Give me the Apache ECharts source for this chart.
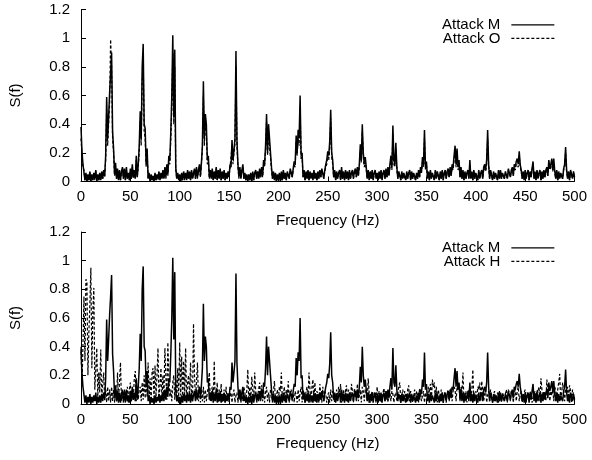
<!DOCTYPE html>
<html>
<head>
<meta charset="utf-8">
<script src="https://cdn.jsdelivr.net/npm/echarts@6/dist/echarts.min.js"></script>
<style>
html,body{margin:0;padding:0;background:#fff;}
#chart{width:592px;height:460px;}
</style>
</head>
<body>
<div id="chart"></div>
<script>
// Frequency resolution of the spectra (Hz per sample), samples start at 0 Hz
const FREQ_STEP_HZ = 1;
const X_TICKS = [0, 50, 100, 150, 200, 250, 300, 350, 400, 450, 500];
const Y_TICKS = [0, 0.2, 0.4, 0.6, 0.8, 1, 1.2];
const SERIES_NAMES = ['Attack M', 'Attack O', 'Attack H'];
const X_TITLE = 'Frequency (Hz)';
const Y_TITLE = 'S(f)';

// Attack M spectrum (both panels), 0..500 Hz
const attackM = [
0.38,0.21,0.12,0.12,0.01,0.06,0.00,0.05,0.01,0.07,
0.00,0.05,0.01,0.06,0.02,0.08,0.00,0.05,0.01,0.06,
0.01,0.07,0.02,0.08,0.04,0.18,0.59,0.30,0.45,0.62,
0.75,0.90,0.35,0.23,0.05,0.13,0.02,0.09,0.01,0.08,
0.01,0.07,0.10,0.02,0.09,0.01,0.10,0.02,0.06,0.01,
0.09,0.02,0.12,0.03,0.08,0.02,0.18,0.03,0.12,0.25,
0.49,0.30,0.80,0.96,0.40,0.37,0.12,0.23,0.02,0.06,
0.00,0.05,0.01,0.04,0.00,0.06,0.01,0.05,0.02,0.07,
0.01,0.06,0.02,0.08,0.02,0.10,0.03,0.12,0.05,0.18,
0.15,0.35,0.60,1.02,0.45,0.92,0.10,0.02,0.06,0.01,
0.05,0.00,0.06,0.01,0.07,0.02,0.06,0.01,0.08,0.02,
0.07,0.01,0.08,0.02,0.06,0.09,0.02,0.10,0.03,0.08,
0.12,0.04,0.13,0.25,0.70,0.30,0.47,0.40,0.15,0.18,
0.03,0.08,0.02,0.09,0.01,0.07,0.02,0.10,0.01,0.08,
0.02,0.09,0.01,0.07,0.02,0.08,0.01,0.06,0.02,0.07,
0.03,0.12,0.10,0.29,0.15,0.22,0.30,0.91,0.29,0.12,
0.03,0.10,0.02,0.08,0.12,0.02,0.06,0.01,0.05,0.00,
0.05,0.01,0.06,0.00,0.07,0.01,0.06,0.08,0.02,0.07,
0.02,0.09,0.03,0.10,0.04,0.15,0.12,0.25,0.47,0.20,
0.40,0.30,0.30,0.10,0.02,0.07,0.01,0.06,0.00,0.05,
0.01,0.06,0.00,0.07,0.01,0.08,0.02,0.06,0.01,0.07,
0.08,0.02,0.09,0.10,0.03,0.09,0.14,0.12,0.32,0.20,
0.36,0.30,0.60,0.18,0.20,0.03,0.08,0.01,0.07,0.02,
0.08,0.01,0.07,0.02,0.06,0.01,0.08,0.02,0.06,0.01,
0.07,0.02,0.08,0.03,0.09,0.10,0.02,0.08,0.12,0.15,
0.21,0.18,0.28,0.50,0.20,0.15,0.03,0.08,0.01,0.07,
0.02,0.06,0.08,0.01,0.10,0.02,0.07,0.01,0.08,0.02,
0.07,0.01,0.08,0.02,0.06,0.08,0.02,0.07,0.09,0.03,
0.10,0.04,0.12,0.26,0.15,0.40,0.20,0.12,0.17,0.10,
0.02,0.08,0.01,0.07,0.02,0.08,0.01,0.06,0.08,0.02,
0.06,0.01,0.07,0.02,0.08,0.01,0.06,0.08,0.02,0.09,
0.03,0.10,0.04,0.12,0.18,0.10,0.39,0.15,0.12,0.27,
0.10,0.02,0.07,0.08,0.01,0.07,0.02,0.06,0.07,0.01,
0.07,0.02,0.06,0.08,0.01,0.07,0.02,0.06,0.07,0.01,
0.06,0.02,0.08,0.03,0.10,0.07,0.17,0.12,0.36,0.10,
0.14,0.02,0.07,0.01,0.08,0.02,0.06,0.07,0.01,0.08,
0.02,0.07,0.08,0.01,0.07,0.02,0.08,0.01,0.06,0.08,
0.02,0.07,0.09,0.03,0.10,0.04,0.12,0.10,0.18,0.25,
0.12,0.23,0.10,0.15,0.03,0.10,0.02,0.08,0.01,0.07,
0.02,0.06,0.08,0.02,0.15,0.02,0.07,0.01,0.08,0.02,
0.06,0.07,0.01,0.08,0.02,0.06,0.08,0.02,0.10,0.12,
0.08,0.15,0.36,0.12,0.02,0.08,0.08,0.01,0.07,0.02,
0.06,0.07,0.01,0.08,0.02,0.08,0.02,0.06,0.07,0.02,
0.07,0.08,0.02,0.09,0.09,0.03,0.08,0.10,0.04,0.12,
0.10,0.14,0.16,0.12,0.21,0.12,0.08,0.02,0.07,0.01,
0.08,0.02,0.06,0.08,0.01,0.07,0.03,0.09,0.14,0.02,
0.07,0.01,0.08,0.02,0.06,0.08,0.01,0.07,0.02,0.08,
0.03,0.08,0.10,0.04,0.15,0.09,0.12,0.16,0.08,0.16,
0.07,0.02,0.08,0.01,0.07,0.02,0.06,0.07,0.02,0.09,
0.12,0.24,0.08,0.02,0.07,0.01,0.08,0.08,0.02,0.07,
0.03
];

// Attack O spectrum (top panel), 0..500 Hz
const attackO = [
0.30,0.18,0.10,0.08,0.01,0.05,0.00,0.04,0.01,0.06,
0.00,0.04,0.01,0.05,0.01,0.07,0.00,0.04,0.01,0.05,
0.01,0.06,0.02,0.07,0.03,0.15,0.50,0.25,0.40,0.55,
0.99,0.80,0.30,0.20,0.04,0.10,0.02,0.08,0.01,0.07,
0.01,0.06,0.08,0.02,0.07,0.01,0.08,0.02,0.05,0.01,
0.07,0.02,0.10,0.02,0.07,0.02,0.15,0.03,0.10,0.20,
0.42,0.25,0.70,0.85,0.35,0.30,0.10,0.20,0.02,0.05,
0.00,0.04,0.01,0.03,0.00,0.05,0.01,0.04,0.01,0.06,
0.01,0.05,0.02,0.07,0.02,0.08,0.02,0.10,0.04,0.15,
0.12,0.30,0.50,0.90,0.40,0.80,0.08,0.02,0.05,0.01,
0.04,0.00,0.05,0.01,0.06,0.01,0.05,0.01,0.07,0.02,
0.06,0.01,0.07,0.02,0.05,0.08,0.02,0.09,0.02,0.07,
0.10,0.03,0.12,0.22,0.60,0.25,0.40,0.35,0.12,0.15,
0.02,0.07,0.02,0.08,0.01,0.06,0.02,0.09,0.01,0.07,
0.02,0.08,0.01,0.06,0.02,0.07,0.01,0.05,0.02,0.06,
0.03,0.10,0.09,0.25,0.12,0.20,0.26,0.80,0.25,0.10,
0.02,0.08,0.02,0.07,0.10,0.02,0.05,0.01,0.04,0.00,
0.04,0.01,0.05,0.00,0.06,0.01,0.05,0.07,0.02,0.06,
0.02,0.08,0.03,0.09,0.03,0.12,0.10,0.22,0.42,0.18,
0.35,0.25,0.26,0.08,0.02,0.06,0.01,0.05,0.00,0.04,
0.01,0.05,0.00,0.06,0.01,0.07,0.02,0.05,0.01,0.06,
0.07,0.02,0.08,0.08,0.03,0.08,0.12,0.10,0.28,0.18,
0.30,0.25,0.52,0.15,0.17,0.03,0.07,0.01,0.06,0.02,
0.07,0.01,0.06,0.02,0.05,0.01,0.07,0.02,0.05,0.01,
0.06,0.02,0.07,0.03,0.08,0.09,0.02,0.07,0.10,0.12,
0.18,0.15,0.24,0.44,0.17,0.12,0.03,0.07,0.01,0.06,
0.02,0.05,0.07,0.01,0.08,0.02,0.06,0.01,0.07,0.02,
0.06,0.01,0.07,0.02,0.05,0.07,0.02,0.06,0.08,0.03,
0.08,0.04,0.10,0.22,0.13,0.35,0.17,0.10,0.14,0.08,
0.02,0.07,0.01,0.06,0.02,0.07,0.01,0.05,0.07,0.02,
0.05,0.01,0.06,0.02,0.07,0.01,0.05,0.07,0.02,0.08,
0.03,0.08,0.04,0.10,0.15,0.08,0.33,0.12,0.10,0.23,
0.08,0.02,0.06,0.07,0.01,0.06,0.02,0.05,0.06,0.01,
0.06,0.02,0.05,0.07,0.01,0.06,0.02,0.05,0.06,0.01,
0.05,0.02,0.07,0.03,0.08,0.06,0.14,0.10,0.30,0.08,
0.12,0.02,0.06,0.01,0.07,0.02,0.05,0.06,0.01,0.07,
0.02,0.06,0.07,0.01,0.06,0.02,0.07,0.01,0.05,0.07,
0.02,0.06,0.08,0.03,0.08,0.04,0.10,0.08,0.15,0.21,
0.10,0.19,0.08,0.12,0.03,0.08,0.02,0.07,0.01,0.06,
0.02,0.05,0.07,0.02,0.12,0.02,0.06,0.01,0.07,0.02,
0.05,0.06,0.01,0.07,0.02,0.05,0.07,0.02,0.08,0.10,
0.07,0.12,0.30,0.10,0.02,0.07,0.07,0.01,0.06,0.02,
0.05,0.06,0.01,0.07,0.02,0.07,0.02,0.05,0.06,0.02,
0.06,0.07,0.02,0.08,0.08,0.03,0.07,0.08,0.04,0.10,
0.08,0.12,0.13,0.10,0.18,0.10,0.07,0.02,0.06,0.01,
0.07,0.02,0.05,0.07,0.01,0.06,0.03,0.08,0.12,0.02,
0.06,0.01,0.07,0.02,0.05,0.07,0.01,0.06,0.02,0.07,
0.03,0.07,0.08,0.04,0.12,0.08,0.10,0.13,0.07,0.13,
0.06,0.02,0.07,0.01,0.06,0.02,0.05,0.06,0.02,0.08,
0.10,0.20,0.07,0.02,0.06,0.01,0.07,0.07,0.02,0.06,
0.02
];

// Attack H spectrum (bottom panel), 0..500 Hz
const attackH = [
0.40,0.12,0.42,0.75,0.30,0.87,0.85,0.20,0.50,0.70,
0.95,0.25,0.65,0.81,0.10,0.25,0.39,0.05,0.22,0.08,
0.38,0.04,0.15,0.22,0.02,0.10,0.01,0.12,0.02,0.10,
0.01,0.12,0.02,0.10,0.01,0.08,0.02,0.22,0.03,0.15,
0.29,0.02,0.08,0.01,0.10,0.02,0.08,0.12,0.01,0.10,
0.15,0.02,0.10,0.03,0.18,0.23,0.02,0.12,0.03,0.10,
0.12,0.02,0.15,0.03,0.20,0.04,0.18,0.05,0.29,0.03,
0.18,0.02,0.22,0.25,0.03,0.27,0.05,0.20,0.39,0.04,
0.12,0.25,0.03,0.20,0.05,0.39,0.18,0.03,0.43,0.20,
0.05,0.10,0.02,0.15,0.20,0.03,0.18,0.02,0.25,0.05,
0.43,0.06,0.33,0.04,0.30,0.05,0.39,0.03,0.15,0.20,
0.04,0.29,0.05,0.02,0.56,0.20,0.03,0.15,0.29,0.02,
0.12,0.01,0.10,0.02,0.12,0.01,0.10,0.02,0.08,0.12,
0.22,0.02,0.08,0.12,0.03,0.30,0.02,0.06,0.15,0.01,
0.10,0.02,0.14,0.01,0.05,0.10,0.01,0.12,0.02,0.08,
0.01,0.06,0.08,0.01,0.07,0.10,0.01,0.06,0.08,0.01,
0.07,0.10,0.01,0.08,0.02,0.12,0.08,0.01,0.10,0.24,
0.02,0.12,0.02,0.19,0.10,0.02,0.22,0.09,0.01,0.06,
0.10,0.15,0.02,0.13,0.02,0.10,0.01,0.08,0.12,0.02,
0.08,0.01,0.10,0.07,0.01,0.09,0.16,0.02,0.05,0.10,
0.01,0.12,0.09,0.22,0.02,0.06,0.12,0.01,0.10,0.05,
0.16,0.01,0.06,0.10,0.02,0.07,0.01,0.09,0.06,0.01,
0.10,0.02,0.08,0.12,0.01,0.10,0.07,0.01,0.09,0.12,
0.02,0.22,0.10,0.01,0.12,0.17,0.02,0.15,0.01,0.09,
0.07,0.01,0.14,0.06,0.01,0.12,0.02,0.09,0.07,0.01,
0.06,0.08,0.01,0.10,0.02,0.09,0.06,0.01,0.05,0.10,
0.02,0.12,0.06,0.14,0.01,0.05,0.10,0.02,0.09,0.13,
0.01,0.10,0.08,0.02,0.14,0.09,0.01,0.11,0.07,0.02,
0.14,0.02,0.06,0.10,0.01,0.12,0.09,0.02,0.10,0.08,
0.02,0.18,0.07,0.01,0.06,0.09,0.02,0.08,0.07,0.01,
0.12,0.02,0.09,0.07,0.01,0.05,0.08,0.11,0.02,0.09,
0.07,0.01,0.06,0.08,0.02,0.09,0.07,0.01,0.06,0.08,
0.02,0.07,0.12,0.15,0.01,0.06,0.10,0.02,0.09,0.05,
0.01,0.10,0.13,0.02,0.09,0.06,0.01,0.05,0.10,0.02,
0.09,0.06,0.01,0.11,0.07,0.02,0.06,0.09,0.01,0.08,
0.07,0.02,0.12,0.08,0.14,0.02,0.17,0.12,0.15,0.02,
0.12,0.01,0.10,0.06,0.02,0.10,0.07,0.01,0.08,0.06,
0.01,0.07,0.10,0.02,0.08,0.11,0.02,0.09,0.12,0.10,
0.02,0.12,0.10,0.14,0.02,0.12,0.08,0.22,0.02,0.07,
0.09,0.01,0.10,0.08,0.12,0.02,0.10,0.24,0.02,0.06,
0.09,0.02,0.12,0.10,0.15,0.02,0.16,0.17,0.02,0.07,
0.10,0.01,0.06,0.09,0.02,0.10,0.05,0.01,0.06,0.09,
0.02,0.05,0.08,0.01,0.09,0.07,0.01,0.08,0.06,0.02,
0.07,0.10,0.01,0.10,0.08,0.02,0.09,0.07,0.01,0.08,
0.10,0.02,0.09,0.12,0.02,0.06,0.09,0.01,0.05,0.08,
0.10,0.01,0.08,0.05,0.02,0.09,0.06,0.01,0.05,0.07,
0.09,0.02,0.10,0.08,0.12,0.02,0.18,0.10,0.02,0.09,
0.06,0.02,0.17,0.08,0.12,0.02,0.09,0.06,0.10,0.02,
0.12,0.09,0.02,0.10,0.15,0.21,0.02,0.08,0.15,0.09,
0.02,0.10,0.08,0.12,0.02,0.13,0.09,0.01,0.10,0.06,
0.02
];

function toPairs(arr) {
  return arr.map(function (v, i) { return [i * FREQ_STEP_HZ, v]; });
}

const FONT = '"Liberation Sans", Arial, Helvetica, sans-serif';
const textStyle = { fontFamily: FONT, fontSize: 15, color: '#000' };

function xAxis(gridIndex) {
  return {
    type: 'value', gridIndex: gridIndex,
    min: X_TICKS[0], max: X_TICKS[X_TICKS.length - 1], interval: X_TICKS[1] - X_TICKS[0],
    name: X_TITLE, nameLocation: 'middle', nameGap: 32,
    nameTextStyle: textStyle,
    axisLine: { show: true, lineStyle: { color: '#000', width: 1 } },
    axisTick: { show: true, inside: true, length: 5, lineStyle: { color: '#000' } },
    axisLabel: Object.assign({ margin: 8 }, textStyle),
    splitLine: { show: false }
  };
}
function yAxis(gridIndex) {
  return {
    type: 'value', gridIndex: gridIndex,
    min: Y_TICKS[0], max: Y_TICKS[Y_TICKS.length - 1], interval: Y_TICKS[1] - Y_TICKS[0],
    name: Y_TITLE, nameLocation: 'middle', nameGap: 58, nameRotate: 90,
    nameTextStyle: textStyle,
    axisLine: { show: true, lineStyle: { color: '#000', width: 1 } },
    axisTick: { show: true, inside: true, length: 5, lineStyle: { color: '#000' } },
    axisLabel: Object.assign({ margin: 11, formatter: function (v) { return String(+v.toFixed(2)); } }, textStyle),
    splitLine: { show: false }
  };
}
function lineSeries(name, data, xi, dashed) {
  return {
    type: 'line', name: name, xAxisIndex: xi, yAxisIndex: xi,
    data: toPairs(data), symbol: 'none', showSymbol: false, animation: false,
    lineStyle: { color: '#000', width: dashed ? 1.2 : 1.5, type: dashed ? [3, 2] : 'solid' },
    itemStyle: { color: '#000' }
  };
}
function legend(names, top) {
  return {
    data: names, orient: 'vertical', right: 32, top: top, align: 'right',
    itemWidth: 43, itemHeight: 8, itemGap: -2,
    itemStyle: { opacity: 0 },
    lineStyle: { width: 1.3 },
    textStyle: Object.assign({ padding: [0, 6, 0, 0], lineHeight: 15.6 }, textStyle),
    selectedMode: false
  };
}

const chart = echarts.init(document.getElementById('chart'), null, { renderer: 'canvas' });
chart.setOption({
  backgroundColor: '#fff',
  animation: false,
  grid: [
    { left: 81, right: 17.5, top: 9.5, height: 172, containLabel: false },
    { left: 81, right: 17.5, top: 232, height: 172, containLabel: false }
  ],
  xAxis: [xAxis(0), xAxis(1)],
  yAxis: [yAxis(0), yAxis(1)],
  legend: [
    legend([SERIES_NAMES[0], SERIES_NAMES[1]], 12),
    legend([SERIES_NAMES[0], SERIES_NAMES[2]], 235)
  ],
  series: [
    lineSeries(SERIES_NAMES[0], attackM, 0, false),
    lineSeries(SERIES_NAMES[1], attackO, 0, true),
    lineSeries(SERIES_NAMES[0], attackM, 1, false),
    lineSeries(SERIES_NAMES[2], attackH, 1, true)
  ]
});
</script>
</body>
</html>
